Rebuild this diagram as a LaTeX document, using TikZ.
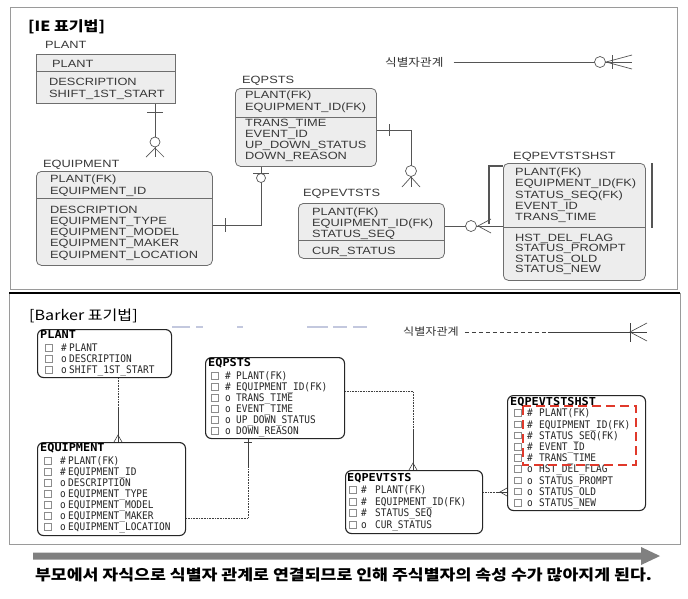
\documentclass[tikz,border=0pt]{standalone}
\usepackage{fontspec}
\newfontfamily\ief[FakeStretch=1.22]{Liberation Sans}
\newfontfamily\krf[FakeStretch=1.15]{Noto Sans CJK KR}
\newfontfamily\krn[FakeStretch=1.15]{Noto Sans CJK KR}
\newfontfamily\bkf[FakeStretch=0.9]{DejaVu Sans Mono}
\newfontfamily\bkh[FakeStretch=1.08]{DejaVu Sans Mono}
\definecolor{iefill}{HTML}{EDEDED}
\definecolor{ieline}{HTML}{6E6E6E}
\definecolor{ietext}{HTML}{383838}
\definecolor{framegray}{HTML}{9A9A9A}
\definecolor{relcol}{HTML}{555555}
\definecolor{arrowgray}{HTML}{808080}
\definecolor{redd}{HTML}{E0392B}
\definecolor{faintblue}{HTML}{C3C8DE}
\tikzset{
 iebox/.style={draw=ieline, fill=iefill, line width=0.8pt, rounded corners=5pt, inner sep=0pt, anchor=north west},
 ietxt/.style={font=\ief\fontsize{10.5}{12}\selectfont, text=ietext, inner sep=0pt, anchor=base west},
 sepline/.style={draw=ieline, line width=0.7pt},
 rel/.style={draw=relcol, line width=0.7pt},
 bkbox/.style={draw=black!85, fill=white, line width=1.1pt, rounded corners=6pt, inner sep=0pt, anchor=north west},
 bktxt/.style={font=\bkf\fontsize{10.5}{11}\selectfont, text=black!85, inner sep=0pt, anchor=base west},
 bkhead/.style={font=\bkh\bfseries\fontsize{11}{12}\selectfont, inner sep=0pt, anchor=base west},
 chk/.style={draw=black!45, line width=0.5pt},
 brel/.style={draw=black!75, line width=0.6pt},
 bdot/.style={brel, densely dotted},
 krtitle/.style={font=\krf\fontsize{14}{16}\selectfont, inner sep=0pt, anchor=base west},
 krleg/.style={font=\krf\fontsize{11}{13}\selectfont, text=black!80, inner sep=0pt, anchor=west},
}
\newcommand\IErows[5]{\foreach \t [count=\i] in {#5}{\node[ietxt] (#1\i) at (#2,{#3+#4*(\i-1)}) {\t};}}
\newcommand\BKrows[7]{%
 \foreach \s/\t [count=\i] in {#7}{%
   \pgfmathsetmacro\yy{#5+#6*(\i-1)}%
   \draw[chk] (#2,\yy-3.3) rectangle ++(7,6.6);
   \node[bktxt] (#1s\i) at (#3,\yy+3.8) {\s};
   \node[bktxt] (#1t\i) at (#4,\yy+3.8) {\t};
 }}
\begin{document}
\begin{tikzpicture}[x=1pt,y=-1pt]
\useasboundingbox (0,0) rectangle (688,598);
\fill[white] (0,0) rectangle (688,598);

% ================= IE panel =================
\draw[framegray, line width=0.8pt] (10,7) rectangle (677,289);
\node[krtitle, font=\krf\bfseries\fontsize{14}{16}\selectfont] (ietitle) at (28,31) {[IE 표기법]};

% PLANT
\node[ietxt] (plantlab) at (45,48) {PLANT};
\node[iebox, sharp corners, minimum width=139, minimum height=49] (ieplant) at (36,54) {};
\draw[sepline] (ieplant.west |- 0,71) -- (ieplant.east |- 0,71);
\node[ietxt] (ieplant1) at (52,67) {PLANT};
\IErows{ieplantb}{49}{85}{12}{DESCRIPTION,SHIFT\_1ST\_START}

% EQUIPMENT
\node[ietxt] (eqlab) at (43,167) {EQUIPMENT};
\node[iebox, minimum width=176, minimum height=94] (ieeq) at (36,171) {};
\draw[sepline] (ieeq.west |- 0,198) -- (ieeq.east |- 0,198);
\IErows{ieeqk}{50}{182}{12}{PLANT(FK),EQUIPMENT\_ID}
\IErows{ieeqa}{50}{213}{11.3}{DESCRIPTION,EQUIPMENT\_TYPE,EQUIPMENT\_MODEL,EQUIPMENT\_MAKER,EQUIPMENT\_LOCATION}

% EQPSTS
\node[ietxt] (eqslab) at (242,83) {EQPSTS};
\node[iebox, minimum width=141, minimum height=78] (ieeqs) at (235,88) {};
\draw[sepline] (ieeqs.west |- 0,117) -- (ieeqs.east |- 0,117);
\IErows{ieeqsk}{245}{98}{12}{PLANT(FK),EQUIPMENT\_ID(FK)}
\IErows{ieeqsa}{245}{126}{11.3}{TRANS\_TIME,EVENT\_ID,UP\_DOWN\_STATUS,DOWN\_REASON}

% EQPEVTSTS
\node[ietxt] (evtlab) at (303,196) {EQPEVTSTS};
\node[iebox, minimum width=146, minimum height=55] (ieevt) at (298,203) {};
\draw[sepline] (ieevt.west |- 0,240) -- (ieevt.east |- 0,240);
\IErows{ieevtk}{312}{215}{11}{PLANT(FK),EQUIPMENT\_ID(FK),STATUS\_SEQ}
\IErows{ieevta}{312}{254}{11}{CUR\_STATUS}

% EQPEVTSTSHST
\node[ietxt] (shstlab) at (513,159) {EQPEVTSTSHST};
\node[iebox, minimum width=142, minimum height=117] (ieshst) at (503,163) {};
\draw[sepline] (ieshst.west |- 0,227) -- (ieshst.east |- 0,227);
\IErows{ieshstk}{515}{175.4}{11.3}{PLANT(FK),EQUIPMENT\_ID(FK),STATUS\_SEQ(FK),EVENT\_ID,TRANS\_TIME}
\IErows{ieshsta}{515}{241}{10.5}{HST\_DEL\_FLAG,STATUS\_PROMPT,STATUS\_OLD,STATUS\_NEW}
\draw[relcol, line width=1.3pt] (ieshst.west |- 0,166) -- (489,166) -- (489,224);
\draw[relcol, line width=1.5pt] (652,163) -- (652,228);

% IE relationships
\coordinate (pe) at (155,157);
\draw[rel] (ieplant.south -| pe) -- (pe);
\draw[rel] (147,112) -- (163,112);
\draw[rel, fill=white] (155,142) circle (5);
\draw[rel] (146,157) -- (155,148) -- (164,157);

\draw[rel] (ieeq.east |- 0,225) -| (ieeqs.south -| 261,0);
\draw[rel] (225,218) -- (225,232);
\draw[rel, fill=white] (261,178) circle (4.5);
\draw[rel] (253,173) -- (269,173);

\coordinate (ef) at (411,187);
\draw[rel] (ieeqs.east |- 0,130) -| (ef);
\draw[rel] (389,124) -- (389,136);
\draw[rel, fill=white] (411,171) circle (5.5);
\draw[rel] (402,187) -- (411,177) -- (420,187);

\draw[rel] (ieevt.east |- 0,226) -- (ieshst.west |- 0,226);
\draw[rel, fill=white] (471,226) circle (5.5);
\draw[rel] (491,219) -- (478,226) -- (491,233);

% IE legend
\node[krleg] (leg1) at (385,62) {식별자관계};
\coordinate (leg1end) at (632,62);
\draw[rel] ([xshift=10pt]leg1.east) -- (leg1end);
\draw[rel, fill=white] (600,62) circle (5.5);
\draw[rel] (612,55) -- (612,69);
\draw[rel] (632,55) -- (606,62) -- (632,69);

% ================= Barker panel =================
\draw[framegray, line width=0.8pt] (9,293) rectangle (680,544);
\draw[black, line width=1.6pt] (9,293) -- (680,293);
\node[krtitle] (bktitle) at (29,320) {[Barker 표기법]};

\foreach \a/\b in {172/190,196/203,237/243,307/328,333/347,353/367}
  \draw[faintblue, line width=1.2pt] (\a,327) -- (\b,327);

% Barker legend
\node[krleg, font=\krf\fontsize{10.5}{12}\selectfont] (leg2) at (403,332) {식별자관계};
\coordinate (leg2mid) at (548,332);
\coordinate (leg2end) at (647,332);
\draw[brel, dashed, dash pattern=on 4pt off 3pt] ([xshift=6pt]leg2.east) -- (leg2mid);
\draw[brel] (leg2mid) -- (leg2end);
\draw[brel] (630,323) -- (630,342);
\draw[brel] (647,323) -- (630,332) -- (647,341);

% PLANT
\node[bkbox, minimum width=134, minimum height=48] (bkplant) at (37,329) {};
\node[bkhead] (bkplanth) at (40,338) {PLANT};
\BKrows{bkpl}{45}{61}{69}{348}{11}{\#/PLANT,o/DESCRIPTION,o/SHIFT\_1ST\_START}

% EQUIPMENT
\node[bkbox, minimum width=148, minimum height=93] (bkeq) at (37,442) {};
\node[bkhead] (bkeqh) at (40,451) {EQUIPMENT};
\BKrows{bkeqr}{44}{60}{68}{461}{11}{\#/PLANT(FK),\#/EQUIPMENT\_ID,o/DESCRIPTION,o/EQUIPMENT\_TYPE,o/EQUIPMENT\_MODEL,o/EQUIPMENT\_MAKER,o/EQUIPMENT\_LOCATION}

% EQPSTS
\node[bkbox, minimum width=139, minimum height=81] (bkeqs) at (205,357) {};
\node[bkhead] (bkeqsh) at (208,366) {EQPSTS};
\BKrows{bkeqsr}{211}{225}{236}{376}{11}{\#/PLANT(FK),\#/EQUIPMENT\_ID(FK),o/TRANS\_TIME,o/EVENT\_TIME,o/UP\_DOWN\_STATUS,o/DOWN\_REASON}

% EQPEVTSTS
\node[bkbox, minimum width=137, minimum height=63] (bkevt) at (345,470) {};
\node[bkhead] (bkevth) at (347,481) {EQPEVTSTS};
\BKrows{bkevtr}{349}{361}{375}{490}{11.5}{\#/PLANT(FK),\#/EQUIPMENT\_ID(FK),\#/STATUS\_SEQ,o/CUR\_STATUS}

% EQPEVTSTSHST
\node[bkbox, minimum width=138, minimum height=115] (bkshst) at (507,395) {};
\node[bkhead] (bkshsth) at (510,405) {EQPEVTSTSHST};
\BKrows{bkshstr}{514}{527}{539}{413}{11.2}{\#/PLANT(FK),\#/EQUIPMENT\_ID(FK),\#/STATUS\_SEQ(FK),\#/EVENT\_ID,\#/TRANS\_TIME,o/HST\_DEL\_FLAG,o/STATUS\_PROMPT,o/STATUS\_OLD,o/STATUS\_NEW}
\draw[redd, line width=2pt, dash pattern=on 9pt off 5pt] (523,406) rectangle (636,465);

% Barker relationships
\coordinate (m1) at (118,408);
\draw[bdot] (bkplant.south -| m1) -- (m1);
\draw[brel] (m1) -- (bkeq.north -| m1);
\draw[brel] (114,442) -- (118,435) -- (122,442);

\coordinate (m2) at (248,468);
\draw[bdot] (bkeq.east |- 0,518) -| (m2);
\draw[brel] (m2) -- (bkeqs.south -| m2);
\draw[brel] (244,442) -- (252,442);

\coordinate (m3) at (413,430);
\draw[bdot] (bkeqs.east |- 0,391) -| (m3);
\draw[brel] (m3) -- (bkevt.north -| m3);
\draw[brel] (409,470) -- (413,463) -- (417,470);

\coordinate (m4) at (496,492);
\draw[bdot] (bkevt.east |- 0,492) -- (m4);
\draw[brel] (m4) -- (bkshst.west |- m4);
\draw[brel] (507,488) -- (500,492) -- (507,496);

% ================= bottom arrow and note =================
\fill[arrowgray] (33,552.5) -- (641,552.5) -- (641,547) -- (660,556) -- (641,565) -- (641,559.5) -- (33,559.5) -- cycle;
\node[font=\krn\bfseries\fontsize{15}{17}\selectfont, inner sep=0pt] (note) at (343.5,575) {부모에서 자식으로 식별자 관계로 연결되므로 인해 주식별자의 속성 수가 많아지게 된다.};
\end{tikzpicture}
\end{document}
